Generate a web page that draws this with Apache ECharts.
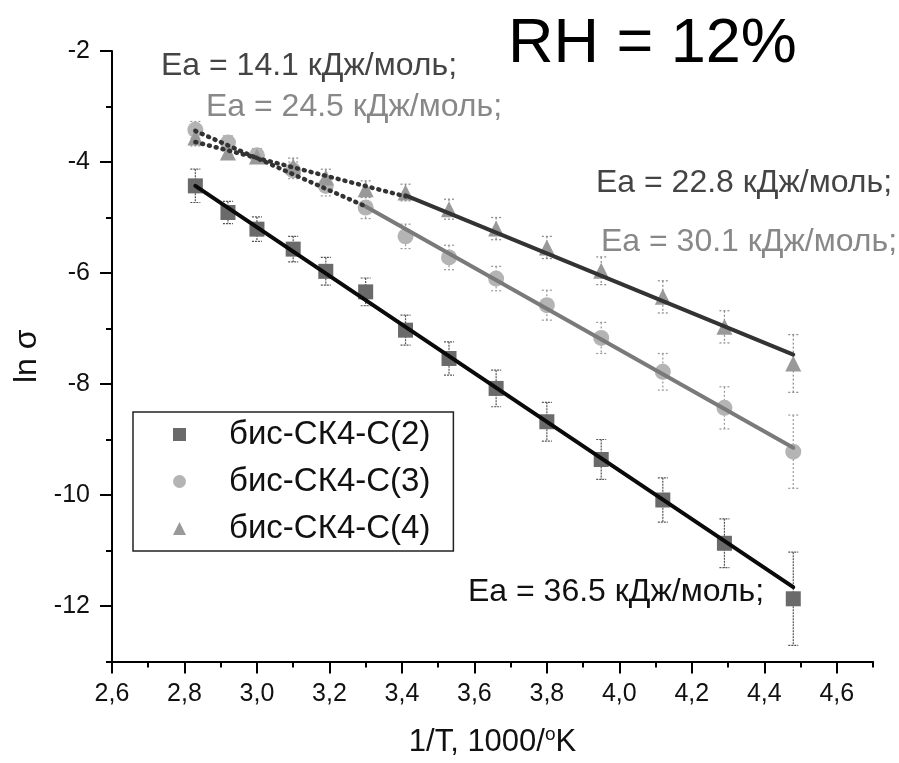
<!DOCTYPE html>
<html>
<head>
<meta charset="utf-8">
<script src="https://cdn.jsdelivr.net/npm/echarts@6/dist/echarts.min.js"></script>
<style>
  html, body { margin: 0; padding: 0; background: #fff; }
  #chart { width: 899px; height: 763px; }
</style>
</head>
<body>
<div id="chart"></div>
<script>
// 1000/T values (same for all three samples)
var invT = [2.83, 2.92, 3.00, 3.10, 3.19, 3.30, 3.41, 3.53, 3.66, 3.80, 3.95, 4.12, 4.29, 4.48];

// ln sigma
var lnS_C2 = [-4.43, -4.91, -5.21, -5.57, -5.97, -6.34, -7.03, -7.54, -8.08, -8.68, -9.36, -10.09, -10.87, -11.87];
var lnS_C3 = [-3.42, -3.65, -3.88, -4.15, -4.43, -4.82, -5.34, -5.72, -6.10, -6.58, -7.17, -7.78, -8.43, -9.22];
var lnS_C4 = [-3.56, -3.83, -3.90, -4.08, -4.28, -4.49, -4.55, -4.85, -5.20, -5.54, -5.96, -6.43, -6.97, -7.63];

// error bar half-heights
var err_C2 = [0.30, 0.20, 0.22, 0.23, 0.25, 0.25, 0.27, 0.30, 0.33, 0.35, 0.36, 0.40, 0.44, 0.84];
var err_C3 = [0.15, 0.12, 0.12, 0.15, 0.18, 0.20, 0.22, 0.22, 0.22, 0.27, 0.28, 0.33, 0.38, 0.66];
var err_C4 = [0.15, 0.12, 0.12, 0.15, 0.15, 0.15, 0.15, 0.18, 0.20, 0.20, 0.25, 0.29, 0.29, 0.52];

// linear fits (end points)
var fitC2 = [[2.83, -4.43], [4.48, -11.66]];
var fitC3low = [[2.83, -3.44], [3.30, -4.80]];
var fitC3high = [[3.30, -4.80], [4.48, -9.15]];
var fitC4low = [[2.83, -3.64], [3.41, -4.62]];
var fitC4high = [[3.41, -4.60], [4.48, -7.47]];

var names = ['бис-СК4-С(2)', 'бис-СК4-С(3)', 'бис-СК4-С(4)'];
var xMajor = [2.6, 2.8, 3.0, 3.2, 3.4, 3.6, 3.8, 4.0, 4.2, 4.4, 4.6];
var yMajor = [-12, -10, -8, -6, -4, -2];

var FONT = 'Liberation Sans, Arial, sans-serif';

var chart = echarts.init(document.getElementById('chart'), null, { renderer: 'canvas' });

function pts(ys) {
    return invT.map(function (x, i) { return [x, ys[i]]; });
}

function errBars(ys, errs, color, dash) {
    return {
        type: 'custom',
        xAxisIndex: 0,
        yAxisIndex: 0,
        z: 1,
        silent: true,
        renderItem: function (params, api) {
            var x = api.value(0), y = api.value(1), e = api.value(2);
            var top = api.coord([x, y + e]);
            var bot = api.coord([x, y - e]);
            var w = 5;
            var st = { stroke: color, lineWidth: 1.2, lineDash: dash };
            return {
                type: 'group',
                children: [
                    { type: 'line', shape: { x1: top[0], y1: top[1], x2: bot[0], y2: bot[1] }, style: st },
                    { type: 'line', shape: { x1: top[0] - w, y1: top[1], x2: top[0] + w, y2: top[1] }, style: st },
                    { type: 'line', shape: { x1: bot[0] - w, y1: bot[1], x2: bot[0] + w, y2: bot[1] }, style: st }
                ]
            };
        },
        data: invT.map(function (x, i) { return [x, ys[i], errs[i]]; })
    };
}

function fitLine(data, color, width, type) {
    return {
        type: 'line',
        data: data,
        symbol: 'none',
        silent: true,
        z: 4,
        lineStyle: { color: color, width: width, type: type, cap: 'round' },
        animation: false
    };
}

function eaText(txt, x, y, color) {
    return {
        type: 'text', x: x, y: y,
        style: { text: txt, font: '32px ' + FONT, fill: color, textVerticalAlign: 'middle' }
    };
}

var option = {
    backgroundColor: '#ffffff',
    animation: false,
    grid: { left: 112, top: 51, width: 761, height: 613 },
    legend: {
        orient: 'vertical',
        left: 133,
        top: 412,
        padding: [6, 23, 6, 40],
        borderColor: '#222',
        borderWidth: 1.5,
        itemWidth: 13,
        itemHeight: 13,
        itemGap: 14,
        selectedMode: false,
        textStyle: { fontSize: 33, lineHeight: 32, color: '#111', fontFamily: FONT, padding: [0, 0, 0, 38] },
        data: [
            { name: names[0], icon: 'rect' },
            { name: names[1], icon: 'circle' },
            { name: names[2], icon: 'triangle' }
        ]
    },
    xAxis: [{
        type: 'value',
        min: 2.6, max: 4.7, interval: 0.1,
        position: 'bottom',
        name: '1/T, 1000/{sup|o}K',
        nameLocation: 'middle',
        nameGap: 64,
        nameTextStyle: {
            fontSize: 31, color: '#111', fontFamily: FONT,
            rich: { sup: { fontSize: 19, color: '#111', fontFamily: FONT, padding: [0, 0, 15, 0] } }
        },
        axisLine: { lineStyle: { color: '#000', width: 2 } },
        axisTick: { inside: false, length: 6, lineStyle: { color: '#000', width: 2 } },
        axisLabel: {
            margin: 20, fontSize: 25, color: '#111', fontFamily: FONT,
            formatter: function (v) {
                return Math.round(v * 10) % 2 === 0 ? v.toFixed(1).replace('.', ',') : '';
            }
        },
        splitLine: { show: false }
    }, {
        type: 'value',
        min: 2.6, max: 4.7,
        position: 'bottom',
        gridIndex: 0,
        axisLine: { show: false },
        axisTick: { length: 12, customValues: xMajor, lineStyle: { color: '#000', width: 2 } },
        axisLabel: { show: false },
        splitLine: { show: false }
    }],
    yAxis: [{
        type: 'value',
        min: -13, max: -2, interval: 1,
        position: 'left',
        name: 'ln σ',
        nameLocation: 'middle',
        nameGap: 68,
        nameTextStyle: { fontSize: 32, color: '#111', fontFamily: FONT },
        axisLine: { lineStyle: { color: '#000', width: 2 } },
        axisTick: { inside: false, length: 6, lineStyle: { color: '#000', width: 2 } },
        axisLabel: {
            margin: 22, fontSize: 25, color: '#111', fontFamily: FONT,
            formatter: function (v) { return v % 2 === 0 ? String(v) : ''; }
        },
        splitLine: { show: false }
    }, {
        type: 'value',
        min: -13, max: -2,
        position: 'left',
        gridIndex: 0,
        axisLine: { show: false },
        axisTick: { length: 12, customValues: yMajor, lineStyle: { color: '#000', width: 2 } },
        axisLabel: { show: false },
        splitLine: { show: false }
    }],
    series: [
        errBars(lnS_C2, err_C2, '#555', [2, 1]),
        errBars(lnS_C3, err_C3, '#999', [2, 2]),
        errBars(lnS_C4, err_C4, '#888', [2, 2]),
        {
            name: names[0], type: 'scatter', symbol: 'rect', symbolSize: 15, z: 3,
            itemStyle: { color: '#6a6a6a', opacity: 1 },
            data: pts(lnS_C2)
        },
        {
            name: names[1], type: 'scatter', symbol: 'circle', symbolSize: 16, z: 3,
            itemStyle: { color: '#b4b4b4', opacity: 1 },
            data: pts(lnS_C3)
        },
        {
            name: names[2], type: 'scatter', symbol: 'triangle', symbolSize: 16, z: 3,
            itemStyle: { color: '#999999', opacity: 1 },
            data: pts(lnS_C4)
        },
        fitLine(fitC2, '#0a0a0a', 4, 'solid'),
        fitLine(fitC3high, '#7a7a7a', 4, 'solid'),
        fitLine(fitC4high, '#333333', 4, 'solid'),
        fitLine(fitC3low, '#333333', 4.5, [1, 6]),
        fitLine(fitC4low, '#333333', 4.5, [1, 6])
    ],
    graphic: [
        { type: 'text', x: 508, y: 45, style: { text: 'RH = 12%', font: '63px ' + FONT, fill: '#000', textVerticalAlign: 'middle' } },
        eaText('Ea = 14.1 кДж/моль;', 161, 66, '#444'),
        eaText('Ea = 24.5 кДж/моль;', 206, 107, '#888'),
        eaText('Ea = 22.8 кДж/моль;', 596, 183, '#444'),
        eaText('Ea = 30.1 кДж/моль;', 601, 242, '#888'),
        eaText('Ea = 36.5 кДж/моль;', 468, 592, '#111')
    ]
};

chart.setOption(option);
</script>
</body>
</html>
